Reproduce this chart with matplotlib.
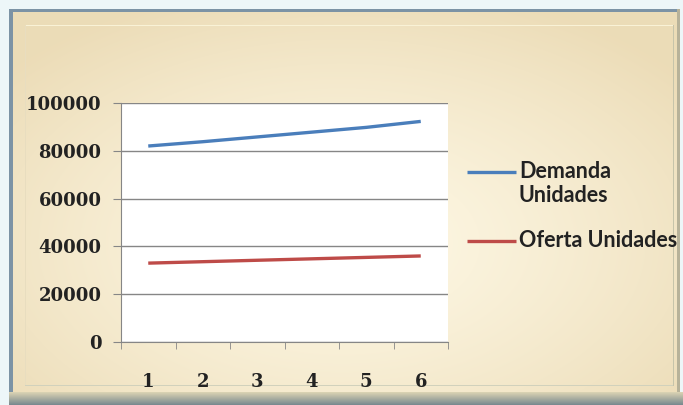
import numpy as np
import matplotlib
matplotlib.use('Agg')
import matplotlib.pyplot as plt
from matplotlib.lines import Line2D

# Datos de la gráfica
periodos = [1, 2, 3, 4, 5, 6]
demanda_unidades = [82000, 83800, 85800, 87800, 89800, 92300]
oferta_unidades = [33000, 33600, 34200, 34800, 35400, 36000]
etiquetas_y = [0, 20000, 40000, 60000, 80000, 100000]
series = ['Demanda\nUnidades', 'Oferta Unidades']
colores = ['#4a7ebb', '#be4b48']

W, H = 683, 405
fig = plt.figure(figsize=(W / 100, H / 100), dpi=100)
fig.patch.set_facecolor('#eef6f8')

# Fondo tipo marco de Excel: degradado beige con borde
fondo = np.ones((H, W, 3)) * np.array([0.933, 0.965, 0.973])
yy, xx = np.mgrid[0:H, 0:W]
cx, cy = 0.5, 0.6
d = np.sqrt(((xx / W - cx) / 0.65) ** 2 + ((yy / H - cy) / 0.65) ** 2)
d = np.clip(d, 0, 1) ** 1.3
claro = np.array([0.996, 0.973, 0.898])
oscuro = np.array([0.925, 0.863, 0.718])
beige = claro[None, None, :] * (1 - d[..., None]) + oscuro[None, None, :] * d[..., None]
x0, x1, y0, y1 = 9, 680, 9, 392
fondo[y0:y1, x0:x1] = beige[y0:y1, x0:x1]
# borde exterior gris azulado
borde = np.array([0.49, 0.58, 0.65])
fondo[y0:y0 + 3, x0:x1] = borde
fondo[y0:y1, x0:x0 + 4] = borde
fondo[y0:y1, x1 - 3:x1] = np.array([0.72, 0.70, 0.60])
# bisel interior suave
fondo[y0 + 16:y0 + 17, x0 + 16:x1 - 6] = np.array([0.98, 0.95, 0.84])
fondo[y0 + 16:y1 - 6, x0 + 16:x0 + 17] = np.array([0.91, 0.87, 0.75])
fondo[y1 - 7:y1 - 6, x0 + 16:x1 - 6] = np.array([0.82, 0.82, 0.74])
fondo[y0 + 16:y1 - 6, x1 - 7:x1 - 6] = np.array([0.78, 0.77, 0.67])
# franja inferior
for i, y in enumerate(range(y1, H)):
    t = i / (H - y1)
    fondo[y, x0:] = np.array([0.85, 0.82, 0.70]) * (1 - t) + np.array([0.45, 0.52, 0.55]) * t

ax_bg = fig.add_axes([0, 0, 1, 1])
ax_bg.imshow(fondo, aspect='auto', extent=[0, 1, 0, 1])
ax_bg.axis('off')

# Área de trazado
ax = fig.add_axes([121 / W, 1 - 342 / H, (448 - 121) / W, (342 - 103) / H])
ax.set_facecolor('white')

for valores, color in zip([demanda_unidades, oferta_unidades], colores):
    ax.plot(periodos, valores, color=color, linewidth=2.4, solid_capstyle='butt')

ax.set_xlim(0.5, 6.5)
ax.set_ylim(0, 100000)
ax.set_yticks(etiquetas_y)
ax.set_yticklabels([str(v) for v in etiquetas_y])
ax.set_xticks(periodos)
ax.set_xticks(np.arange(0.5, 7.0, 1.0), minor=True)
ax.tick_params(axis='x', which='major', length=0, pad=22)
ax.tick_params(axis='x', which='minor', length=5, color='#868686', direction='out')
ax.tick_params(axis='y', length=6, color='#868686', direction='out', pad=8)

for lbl in ax.get_xticklabels() + ax.get_yticklabels():
    lbl.set_fontfamily('DejaVu Serif')
    lbl.set_fontweight('bold')
    lbl.set_fontsize(13)
    lbl.set_color('#222222')

ax.yaxis.grid(True, color='#868686', linewidth=1)
ax.set_axisbelow(True)
for lado in ['top', 'right']:
    ax.spines[lado].set_visible(False)
ax.spines['left'].set_color('#868686')
ax.spines['bottom'].set_color('#868686')

# Leyenda: la línea se alinea con la primera fila del texto
filas_y = [172, 241]
for nombre, color, yp in zip(series, colores, filas_y):
    yf = 1 - yp / H
    fig.add_artist(Line2D([467 / W, 516 / W], [yf, yf], color=color, linewidth=2.4,
                          solid_capstyle='butt', transform=fig.transFigure))
    fig.text(519 / W, 1 - (yp - 11) / H, nombre, ha='left', va='top', linespacing=1.15,
             fontfamily='Lato', fontweight='bold', fontsize=15.5, color='#222222')

fig.savefig('out.png', dpi=100)
